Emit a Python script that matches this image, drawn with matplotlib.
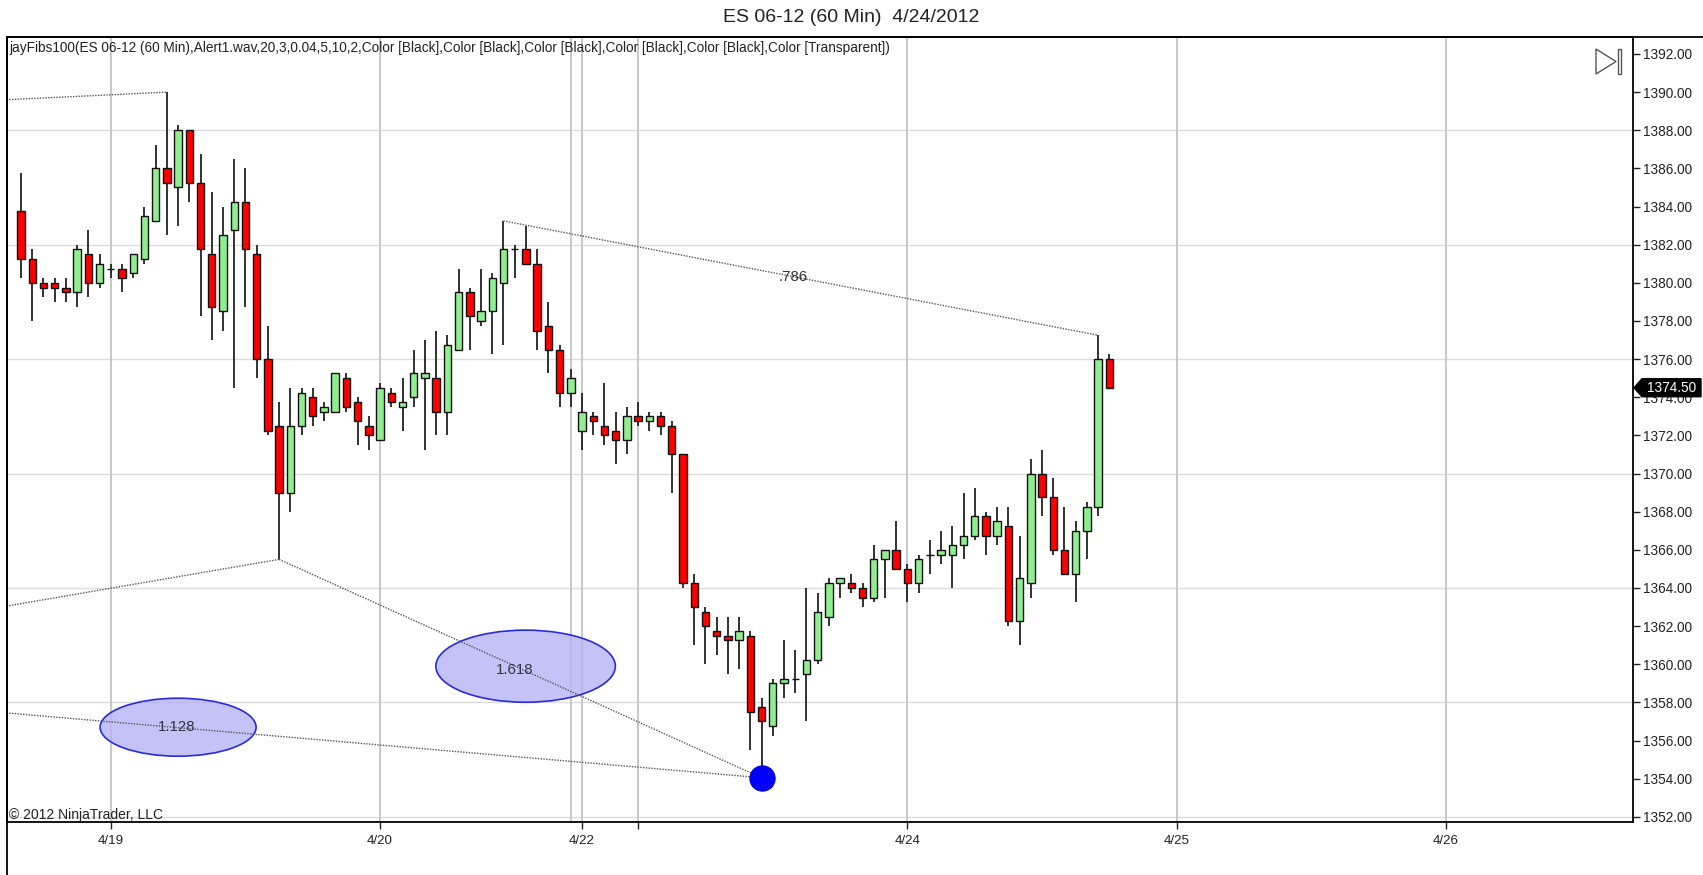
import matplotlib
matplotlib.use('Agg')
import matplotlib.pyplot as plt
from matplotlib.patches import Ellipse, Polygon, Rectangle
from matplotlib.lines import Line2D
from matplotlib.transforms import IdentityTransform
import numpy as np

plt.rcParams['font.family'] = ['Liberation Sans', 'DejaVu Sans']

# ---------------- data (ES 06-12, 60 min bars) ----------------
opens = [1383.75, 1381.25, 1380.0, 1380.0, 1379.75, 1379.5, 1381.5, 1380.0, 1380.75, 1380.75,
         1380.5, 1381.25, 1383.25, 1386.0, 1385.0, 1388.0, 1385.25, 1381.5, 1378.5, 1382.75,
         1384.25, 1381.5, 1376.0, 1372.5, 1369.0, 1372.5, 1374.0, 1373.25, 1373.25, 1375.0,
         1373.75, 1372.5, 1371.75, 1374.25, 1373.5, 1374.0, 1375.0, 1375.0, 1373.25, 1376.5,
         1379.5, 1378.0, 1378.5, 1380.0, 1381.75, 1381.75, 1381.0, 1377.75, 1376.5, 1374.25,
         1372.25, 1373.0, 1372.5, 1372.25, 1371.75, 1373.0, 1372.75, 1373.0, 1372.5, 1371.0,
         1364.25, 1362.75, 1361.75, 1361.5, 1361.25, 1361.5, 1357.75, 1356.75, 1359.0, 1359.25,
         1359.5, 1360.25, 1362.5, 1364.25, 1364.25, 1364.0, 1363.5, 1365.5, 1366.0, 1365.0,
         1364.25, 1365.75, 1365.75, 1365.75, 1366.25, 1366.75, 1367.75, 1366.75, 1367.25, 1362.25,
         1364.25, 1370.0, 1368.75, 1366.0, 1364.75, 1367.0, 1368.25, 1376.0]
highs = [1385.75, 1381.75, 1380.25, 1380.25, 1380.25, 1382.0, 1382.75, 1381.5, 1381.0, 1381.0,
         1381.5, 1384.0, 1387.25, 1390.0, 1388.25, 1388.0, 1386.75, 1384.75, 1384.0, 1386.5,
         1386.0, 1382.0, 1377.75, 1373.75, 1374.5, 1374.5, 1374.5, 1373.75, 1375.25, 1375.25,
         1374.0, 1373.0, 1374.75, 1374.5, 1375.0, 1376.5, 1377.0, 1377.5, 1377.25, 1380.75,
         1379.75, 1380.75, 1380.5, 1383.25, 1382.0, 1383.0, 1381.75, 1379.0, 1376.75, 1375.5,
         1374.25, 1373.25, 1374.75, 1373.25, 1373.5, 1373.75, 1373.25, 1373.25, 1372.75, 1371.0,
         1364.75, 1363.0, 1362.5, 1362.5, 1362.5, 1361.75, 1358.25, 1359.25, 1361.25, 1360.75,
         1364.0, 1363.75, 1364.5, 1364.5, 1364.75, 1364.25, 1366.25, 1366.0, 1367.5, 1365.25,
         1365.75, 1366.5, 1367.0, 1367.25, 1369.0, 1369.25, 1368.0, 1368.25, 1368.25, 1366.75,
         1370.75, 1371.25, 1369.75, 1368.25, 1367.5, 1368.5, 1377.25, 1376.25]
lows = [1380.25, 1378.0, 1379.25, 1379.0, 1379.0, 1378.75, 1379.25, 1379.75, 1380.25, 1379.5,
        1380.25, 1381.0, 1383.25, 1382.5, 1383.0, 1384.25, 1378.25, 1377.0, 1377.5, 1374.5,
        1378.75, 1375.0, 1372.0, 1365.5, 1368.0, 1372.0, 1372.5, 1372.75, 1373.25, 1373.25,
        1371.5, 1371.25, 1371.75, 1373.5, 1372.25, 1373.5, 1371.25, 1372.0, 1372.0, 1376.5,
        1376.5, 1377.75, 1376.25, 1376.75, 1380.25, 1381.0, 1376.5, 1375.25, 1373.5, 1373.5,
        1371.25, 1372.0, 1371.5, 1370.5, 1371.0, 1372.5, 1372.25, 1372.0, 1369.0, 1364.0,
        1361.0, 1360.0, 1360.5, 1359.5, 1359.75, 1355.5, 1354.5, 1356.25, 1358.25, 1358.5,
        1357.0, 1360.0, 1362.0, 1363.5, 1363.75, 1363.0, 1363.25, 1363.5, 1365.0, 1363.25,
        1363.75, 1364.75, 1365.25, 1364.0, 1365.5, 1366.5, 1365.75, 1366.25, 1362.0, 1361.0,
        1363.5, 1367.75, 1365.75, 1364.75, 1363.25, 1365.5, 1367.75, 1374.5]
closes = [1381.25, 1380.0, 1379.75, 1379.75, 1379.5, 1381.75, 1380.0, 1381.0, 1380.75, 1380.25,
          1381.5, 1383.5, 1386.0, 1385.25, 1388.0, 1385.25, 1381.75, 1378.75, 1382.5, 1384.25,
          1381.75, 1376.0, 1372.25, 1369.0, 1372.5, 1374.25, 1373.0, 1373.5, 1375.25, 1373.5,
          1372.75, 1372.0, 1374.5, 1373.75, 1373.75, 1375.25, 1375.25, 1373.25, 1376.75, 1379.5,
          1378.25, 1378.5, 1380.25, 1381.75, 1381.75, 1381.0, 1377.5, 1376.5, 1374.25, 1375.0,
          1373.25, 1372.75, 1372.0, 1371.75, 1373.0, 1372.75, 1373.0, 1372.5, 1371.0, 1364.25,
          1363.0, 1362.0, 1361.5, 1361.25, 1361.75, 1357.5, 1357.0, 1359.0, 1359.25, 1359.25,
          1360.25, 1362.75, 1364.25, 1364.5, 1364.0, 1363.5, 1365.5, 1366.0, 1365.0, 1364.25,
          1365.5, 1365.75, 1366.0, 1366.25, 1366.75, 1367.75, 1366.75, 1367.5, 1362.25, 1364.5,
          1370.0, 1368.75, 1366.0, 1364.75, 1367.0, 1368.25, 1376.0, 1374.5]

tick_bars = [8, 32, 50, 55, 79, 103, 127]
tick_labels = ['4/19', '4/20', '4/22', '', '4/24', '4/25', '4/26']
session_bars = [8, 32, 49, 50, 55, 79, 103, 127]

# fib swing lines: (bar, price) -> (bar, price)
fib_starts = [(-1.3, 1389.6), (43, 1383.25), (-1.3, 1363.05), (23, 1365.5), (-1.3, 1357.45)]
fib_ends = [(13, 1390.0), (96, 1377.25), (23, 1365.5), (66, 1354.05), (66, 1354.05)]
fib_labels = ['.786', '1.618', '1.128']
swing_low = (66, 1354.05)

title = 'ES 06-12 (60 Min)  4/24/2012'
indicator = ('jayFibs100(ES 06-12 (60 Min),Alert1.wav,20,3,0.04,5,10,2,Color [Black],'
             'Color [Black],Color [Black],Color [Black],Color [Black],Color [Transparent])')

# ---------------- figure ----------------
W, H = 1703, 875
fig = plt.figure(figsize=(W / 100, H / 100), dpi=100)
fig.patch.set_facecolor('white')
L, R, T, B = 7, 1633, 37, 822
ax = fig.add_axes([L / W, (H - B) / H, (R - L) / W, (B - T) / H])
ax.set_facecolor('white')

x = np.arange(len(opens))
o = np.array(opens); h = np.array(highs); l = np.array(lows); c = np.array(closes)
up = c >= o
colors = np.where(up, '#90ee90', '#ff0000')

ax.set_xlim(-1.25, 143.67)
ax.set_ylim(1351.73, 1392.89)

# grid
for yv in np.arange(1352, 1392, 6):
    ax.axhline(yv, color='#dcdcdc', lw=1.0, zorder=0)
for xv in session_bars:
    ax.axvline(xv, color='#c4c4c4', lw=1.3, zorder=0)

# candles
ax.vlines(x, l, h, color='#222222', lw=1.3, zorder=2)
ax.bar(x, np.abs(c - o), bottom=np.minimum(o, c), width=0.66, color=colors,
       edgecolor='#111111', linewidth=1.0, zorder=3)

# fib lines
for (x0, y0), (x1, y1) in zip(fib_starts[:3], fib_ends[:3]):
    ax.plot([x0, x1], [y0, y1], color='#555555', lw=1.0, ls=(0, (1, 1)), zorder=4)

# ellipses
for (cx, cy), (ew, eh) in zip([(44.97, 1359.9), (14.0, 1356.7)], [(16.0, 3.78), (13.9, 3.04)]):
    ax.add_patch(Ellipse((cx, cy), ew, eh, facecolor='#b4b4f6', alpha=0.8,
                         edgecolor='none', zorder=4.5))
    ax.add_patch(Ellipse((cx, cy), ew, eh, facecolor='none',
                         edgecolor='#2a2ae0', lw=1.2, zorder=5))
for (x0, y0), (x1, y1) in zip(fib_starts[3:], fib_ends[3:]):
    ax.plot([x0, x1], [y0, y1], color='#555555', lw=1.0, ls=(0, (1, 1)), zorder=5.5)

ax.text(68.8, 1380.3, fib_labels[0], ha='center', va='center', fontsize=10.8, color='#333333', zorder=6)
ax.text(44.0, 1359.7, fib_labels[1], ha='center', va='center', fontsize=10.8, color='#333344', zorder=6)
ax.text(13.9, 1356.7, fib_labels[2], ha='center', va='center', fontsize=10.8, color='#333344', zorder=6)

ax.scatter([swing_low[0]], [swing_low[1]], s=330, color='#0000ff', edgecolor='#0000cc',
           lw=0.8, zorder=7)

# axes styling
for s in ax.spines.values():
    s.set_color('black')
    s.set_linewidth(1.3)
ax.yaxis.tick_right()
ax.set_yticks(np.arange(1352, 1393, 2))
ax.set_yticklabels(['%.2f' % v for v in np.arange(1352, 1393, 2)])
ax.tick_params(axis='y', direction='out', length=5, width=1, pad=2, labelsize=9.8,
               colors='#222222')
ax.set_xticks(tick_bars)
ax.set_xticklabels(tick_labels)
ax.tick_params(axis='x', direction='out', length=5, width=1, pad=4, labelsize=9.6,
               colors='#222222')

# last price marker
fig.canvas.draw()
yd = ax.transData.transform((0, closes[-1]))[1]
poly = Polygon([(R + 1, yd), (R + 9, yd + 9), (R + 68, yd + 9), (R + 68, yd - 9),
                (R + 9, yd - 9)], closed=True, transform=IdentityTransform(),
               facecolor='black', edgecolor='black', zorder=10)
fig.add_artist(poly)
fig.text((R + 39) / W, yd / H, '%.2f' % closes[-1], ha='center', va='center',
         fontsize=9.8, color='white', zorder=11)

# outer frame lines
fig.add_artist(Line2D([L / W, 1.0], [(H - T) / H, (H - T) / H], color='black', lw=1.3))
fig.add_artist(Line2D([L / W, L / W], [0, (H - T) / H], color='black', lw=1.3))

# right-top icon
fig.add_artist(Polygon([(1596, H - 49), (1596, H - 74), (1616, H - 61.5)], closed=True,
                       transform=IdentityTransform(), facecolor='none', edgecolor='#555555', lw=1.0))
fig.add_artist(Rectangle((1618, H - 74), 3.3, 25, transform=IdentityTransform(),
                         facecolor='none', edgecolor='#555555', lw=1.0))

# texts
fig.text(0.5, 1 - 18 / H, title, ha='center', va='center', fontsize=14, color='#222222')
fig.text(9 / W, 1 - 48 / H, indicator, ha='left', va='center', fontsize=9.8, color='#222222')
fig.text(9 / W, 1 - 815 / H, '\u00a9 2012 NinjaTrader, LLC', ha='left', va='center',
         fontsize=10, color='#222222')

fig.savefig('out.png', dpi=100, facecolor='white')
